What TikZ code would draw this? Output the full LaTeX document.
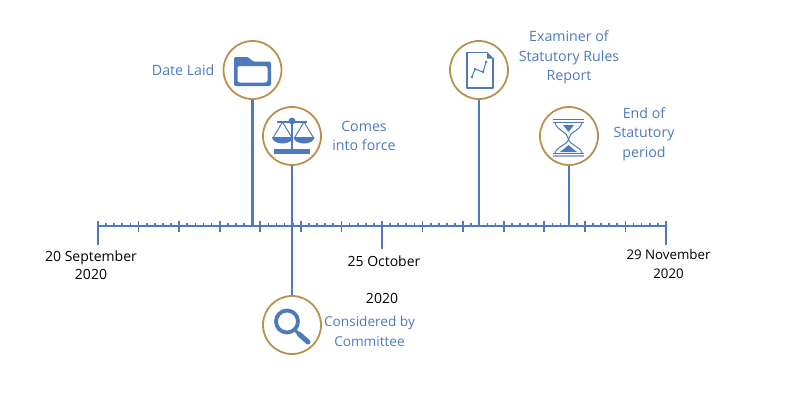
\documentclass[tikz,border=0pt]{standalone}
\usepackage{fontspec}
\setmainfont{Open Sans}
\usepackage{tikz}
\usetikzlibrary{positioning}
\definecolor{tlblue}{HTML}{4D7ABF}
\definecolor{tlgold}{HTML}{B9914E}
\begin{document}
\begin{tikzpicture}[
  x=1pt, y=-1pt,
  font=\fontsize{14.2}{19.3}\selectfont,
  event/.style={draw=tlgold, line width=1.8pt, circle, fill=white, minimum size=58pt, inner sep=0pt},
  stem/.style={draw=tlblue, line width=2.4pt},
  lab/.style={text=tlblue, align=center, inner sep=0pt},
  datelab/.style={text=black, align=center, inner sep=0pt, font=\fontsize{14}{18.3}\selectfont},
  tick/.style={draw=tlblue, line width=1.8pt}
]
\useasboundingbox (0,0) rectangle (790,400);
% axis
\coordinate (start) at (98,226);
\coordinate (finish) at (666,226);
\draw[tick, line width=2.2pt] (start)--(finish);
\foreach \d in {1,...,69} {
  \draw[tick, line width=1.7pt] (98+\d*8.114,226)--(98+\d*8.114,222.5);
}
\foreach \d in {1,...,13} {
  \draw[tick] (98+\d*40.57,221)--(98+\d*40.57,232);
}
\coordinate (startend) at (98,245);
\coordinate (midtop) at (382,226);
\coordinate (midend) at (382,249);
\coordinate (finishend) at (666,245);
\coordinate (starttop) at (98,221);
\coordinate (finishtop) at (666,221);
\draw[tick] (starttop)--(startend);
\draw[tick] (midtop)--(midend);
\draw[tick] (finishtop)--(finishend);
% events
\coordinate (laidfoot) at (252.5,226);
\coordinate (examfoot) at (479,226);
\coordinate (endfoot) at (569,226);
\node[event] (laid) at (252.5,70) {};
\node[event] (force) at (292,136) {};
\node[event] (exam) at (479,70) {};
\node[event] (finished) at (569,136) {};
\node[event] (committee) at (292,325) {};
\draw[stem] (laid)--(laidfoot);
\draw[stem] (force)--(committee);
\draw[stem] (exam)--(examfoot);
\draw[stem] (finished)--(endfoot);
% folder
\fill[tlblue, rounded corners=2pt, even odd rule] (234,86)--(234,57)--(249,57)--(252,61.5)--(271,61.5)--(271,86)--cycle
  (237.5,82.5)--(267.5,82.5)--(267.5,66)--(237.5,66)--cycle;
% scales
\fill[tlblue] (274,149) rectangle (310,154);
\draw[tlblue, line width=1.8pt] (292,121)--(292,150);
\draw[tlblue, line width=1.8pt] (277,122)--(307,122);
\fill[tlblue] (292,121) circle (3.4);
\draw[tlblue, line width=1pt] (273.5,137)--(282.5,122)--(291.5,137);
\draw[tlblue, line width=1pt] (295,137)--(304,122)--(313,137);
\fill[tlblue] (272,137) arc[start angle=180, end angle=360, x radius=10.5, y radius=-6.5]--cycle;
\fill[tlblue] (293.5,137) arc[start angle=180, end angle=360, x radius=10.5, y radius=-6.5]--cycle;
% report
\draw[tlblue, line width=1.5pt, line join=round] (487,52.5)--(467,52.5)--(467,88)--(493,88)--(493,58);
\fill[tlblue] (487,52)--(493.8,58.5)--(487,58.5)--cycle;
\draw[tlblue, line width=1pt] (472,77)--(475,69)--(483,72)--(486,62);
\foreach \px/\py in {472/77,475/69,483/72,486/62} {
  \fill[tlblue] (\px,\py) circle (1.4);
}
% hourglass
\draw[tlblue, line width=1.1pt] (553,119.5)--(584,119.5) (553,122.5)--(584,122.5);
\draw[tlblue, line width=1.1pt] (553,153.5)--(584,153.5);
\draw[tlblue!60, line width=1.8pt] (553,156)--(584,156);
\draw[tlblue, line width=1pt] (555,123) .. controls (558,132) and (567,131) .. (568,138)
  .. controls (569,145) and (580,146) .. (582,153);
\draw[tlblue, line width=1pt] (582,123) .. controls (579,132) and (570,131) .. (569,138)
  .. controls (568,145) and (557,146) .. (555,153);
\fill[tlblue] (563,125)--(574,125)--(568.5,132)--cycle;
\fill[tlblue] (560,152)--(577,152)--(568.5,145)--cycle;
% magnifier
\draw[tlblue, line width=3.8pt] (287,321.5) circle (11);
\draw[tlblue, line width=3pt] (295,330)--(300,335);
\draw[tlblue, line width=5pt, line cap=round] (299,334)--(308,342);
% event labels
\node[lab, left=8pt of laid] (laidlab) {Date Laid};
\node[lab, anchor=center] (forcelab) at (364,136) {Comes\\into force};
\node[lab, anchor=center] (examlab) at (569,57.5) {Examiner of\\Statutory Rules\\Report};
\node[lab, anchor=center] (endlab) at (644,134) {End of\\Statutory\\period};
\node[lab, anchor=center, font=\fontsize{13.6}{19.3}\selectfont] (committeelab) at (369.5,331.5) {Considered by\\Committee};
% dates
\node[datelab] (startlab) at (91,265) {20 September\\2020};
\node[datelab] (midlab) at (384,261) {25 October};
\node[datelab] (midyear) at (382,298) {2020};
\node[datelab, font=\fontsize{13.3}{18.3}\selectfont] (finishlab) at (668.5,264) {29 November\\2020};
\end{tikzpicture}
\end{document}
